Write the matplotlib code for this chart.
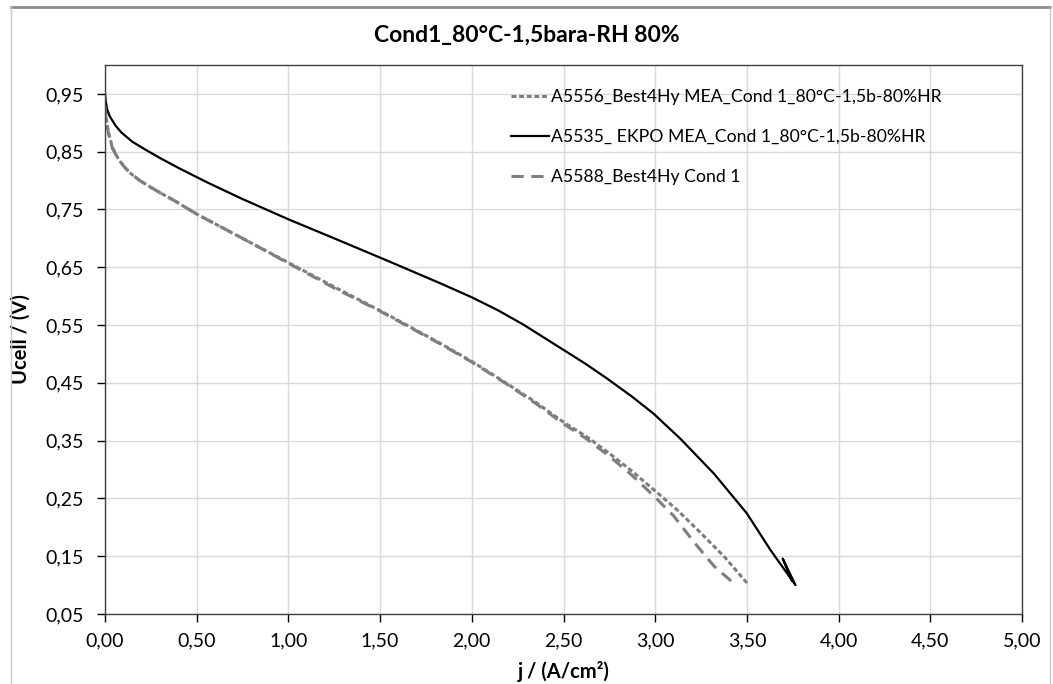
import numpy as np
import matplotlib
matplotlib.use("Agg")
import matplotlib.pyplot as plt
from matplotlib.ticker import FuncFormatter, MultipleLocator
from matplotlib.lines import Line2D

plt.rcParams['font.family'] = ['Lato', 'DejaVu Sans']

# A5556 (short dashes)
j_5556 = [0.0, 0.005, 0.018, 0.04, 0.073, 0.11, 0.145, 0.19, 0.236, 0.3, 0.38, 0.5, 0.75, 1.0,
          1.25, 1.5, 1.83, 2.0, 2.19, 2.35, 2.5, 2.63, 2.75, 2.87, 3.0, 3.12, 3.24, 3.38, 3.51]
u_5556 = [0.935, 0.912, 0.885, 0.858, 0.837, 0.822, 0.811, 0.800, 0.791, 0.779, 0.765, 0.742,
          0.700, 0.658, 0.616, 0.575, 0.518, 0.487, 0.449, 0.416, 0.382, 0.356, 0.328, 0.298,
          0.263, 0.230, 0.193, 0.148, 0.100]
# A5535 EKPO (solid)
j_5535 = [0.0, 0.004, 0.012, 0.025, 0.036, 0.06, 0.09, 0.15, 0.218, 0.3, 0.4, 0.5, 0.563,
          0.75, 1.0, 1.25, 1.55, 1.83, 2.0, 2.14, 2.28, 2.5, 2.62, 2.735, 2.87, 2.99, 3.135,
          3.32, 3.5, 3.63, 3.765, 3.695, 3.745]
u_5535 = [0.952, 0.937, 0.923, 0.912, 0.906, 0.894, 0.883, 0.867, 0.854, 0.839, 0.822, 0.806,
          0.796, 0.768, 0.733, 0.700, 0.660, 0.622, 0.598, 0.576, 0.551, 0.507, 0.483, 0.458,
          0.427, 0.397, 0.354, 0.293, 0.224, 0.160, 0.100, 0.146, 0.108]
# A5588 (long dashes)
j_5588 = [0.0, 0.006, 0.018, 0.04, 0.073, 0.11, 0.145, 0.19, 0.236, 0.3, 0.38, 0.5, 0.75, 1.0,
          1.25, 1.5, 1.83, 2.0, 2.19, 2.35, 2.5, 2.626, 2.75, 2.87, 3.0, 3.1, 3.21, 3.32, 3.44]
u_5588 = [0.930, 0.905, 0.883, 0.856, 0.837, 0.822, 0.811, 0.800, 0.791, 0.779, 0.765, 0.742,
          0.700, 0.657, 0.614, 0.574, 0.517, 0.486, 0.448, 0.414, 0.379, 0.353, 0.323, 0.291,
          0.252, 0.220, 0.175, 0.133, 0.100]

labels = ['A5556_Best4Hy MEA_Cond 1_80°C-1,5b-80%HR',
          'A5535_ EKPO MEA_Cond 1_80°C-1,5b-80%HR',
          'A5588_Best4Hy Cond 1']

fig = plt.figure(figsize=(10.53, 6.84), dpi=100)
ax = fig.add_axes([105 / 1053, (684 - 614) / 684, (1022 - 105) / 1053, (614 - 65) / 684])

grey = '#7f7f7f'
l1, = ax.plot(j_5556, u_5556, color=grey, lw=2.2, linestyle=(0, (1.6, 0.9)))
l2, = ax.plot(j_5535, u_5535, color='black', lw=1.6)
l3, = ax.plot(j_5588, u_5588, color=grey, lw=2.2, linestyle=(0, (4, 2.5)))

ax.set_xlim(0, 5)
ax.set_ylim(0.05, 1.0)
ax.xaxis.set_major_locator(MultipleLocator(0.5))
ax.set_yticks(np.arange(0.05, 0.96, 0.1))
comma = FuncFormatter(lambda v, p: f'{v:.2f}'.replace('.', ','))
ax.xaxis.set_major_formatter(comma)
ax.yaxis.set_major_formatter(comma)
ax.tick_params(labelsize=14, direction='out', length=6, width=1, colors='black')
ax.tick_params(axis='x', pad=7)
ax.tick_params(axis='y', pad=9)
ax.grid(True, color='#d9d9d9', lw=1)
ax.set_axisbelow(True)
for s in ax.spines.values():
    s.set_color('#404040')
    s.set_linewidth(1)

ax.set_xlabel('j / (A/cm²)', fontsize=14.5, fontweight='bold')
ax.set_ylabel('Ucell / (V)', fontsize=14.5, fontweight='bold')
ax.xaxis.set_label_coords(0.5, (614 - 661) / 549)
ax.yaxis.set_label_coords((31 - 105) / 917, 0.5)
fig.text(0.5, 1 - 35 / 684, 'Cond1_80°C-1,5bara-RH 80%', ha='center', va='center',
         fontsize=16.5, fontweight='bold')

leg = ax.legend([l1, l2, l3], labels, loc='upper left', bbox_to_anchor=(0.425, 0.985),
                frameon=False, fontsize=12.7, handlelength=2.2, handletextpad=0.1,
                labelspacing=1.35)

# chart frame
fig.add_artist(Line2D([11 / 1053, 1050 / 1053], [1 - 7 / 684, 1 - 7 / 684],
                      color='#8c8c8c', lw=2))
fig.add_artist(Line2D([11 / 1053, 11 / 1053], [0, 1 - 7 / 684], color='#c8c8c8', lw=1))
fig.add_artist(Line2D([1050 / 1053, 1050 / 1053], [0, 1 - 7 / 684], color='#c8c8c8', lw=1))

fig.savefig('out.png', dpi=100)
